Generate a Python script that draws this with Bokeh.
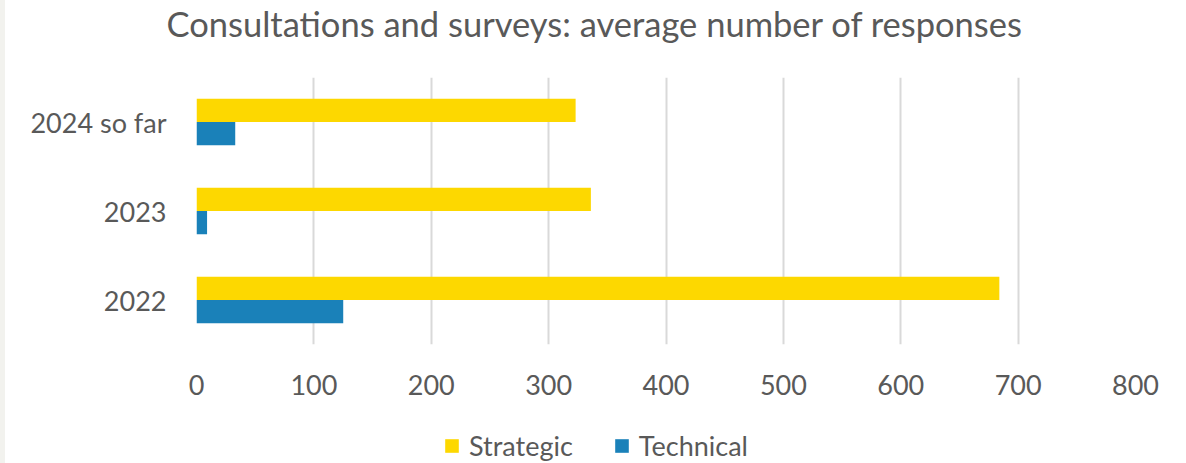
from bokeh.plotting import figure
from bokeh.models import (ColumnDataSource, FactorRange, Range1d, Legend, LegendItem,
                          FixedTicker)
from bokeh.layouts import column
from bokeh.transform import dodge
from bokeh.embed import file_html
from bokeh.resources import INLINE

title_text = "Consultations and surveys: average number of responses"
categories = ["2022", "2023", "2024 so far"]
strategic = [684, 336, 323]
technical = [125, 9, 33]
series_names = ["Strategic", "Technical"]
series_colors = ["#FDD800", "#1A81B9"]
x_ticks = [0, 100, 200, 300, 400, 500, 600, 700, 800]

TEXT = "#595959"
FONT = "Lato"
W = 1181


def bare(height):
    f = figure(width=W, height=height, x_range=Range1d(0, 1), y_range=Range1d(0, 1),
               output_backend="svg", toolbar_location=None,
               x_axis_location=None, y_axis_location=None, min_border=0)
    f.grid.visible = False
    f.outline_line_color = None
    return f


# --- title strip
pt = bare(46)
pt.title.text = title_text
pt.title.text_font = FONT
pt.title.text_font_size = "34.5px"
pt.title.text_font_style = "normal"
pt.title.text_color = TEXT
pt.title.align = "left"
pt.title.offset = -30
pt.title.standoff = 0

# --- main chart
src = ColumnDataSource(dict(cat=categories, strategic=strategic, technical=technical))

p = figure(width=W, height=377, y_range=FactorRange(factors=categories),
           x_range=Range1d(0, 800), output_backend="svg", toolbar_location=None,
           min_border_left=191, min_border_right=51, min_border_top=31, min_border_bottom=79)

p.hbar(y=dodge("cat", 0.13, range=p.y_range), right="strategic", left=0, height=0.26,
       source=src, color=series_colors[0], line_color=None)
p.hbar(y=dodge("cat", -0.13, range=p.y_range), right="technical", left=0, height=0.26,
       source=src, color=series_colors[1], line_color=None)

p.outline_line_color = None
p.ygrid.grid_line_color = None
p.xgrid.grid_line_color = "#D9D9D9"
p.xgrid.grid_line_width = 2
p.xaxis.ticker = FixedTicker(ticks=x_ticks)

for ax in (p.xaxis, p.yaxis):
    ax.axis_line_color = None
    ax.major_tick_line_color = None
    ax.minor_tick_line_color = None
    ax.major_label_text_font = FONT
    ax.major_label_text_font_size = "27px"
    ax.major_label_text_color = TEXT
p.xaxis.major_label_standoff = 24
p.yaxis.major_label_standoff = 24

# --- legend strip (zero-size proxy glyphs carry the legend swatches)
pl = bare(40)
proxy = ColumnDataSource(dict(z=[0]))
lr1 = pl.quad(left="z", right="z", top="z", bottom="z", source=proxy,
              color=series_colors[0], line_color=None)
lr2 = pl.quad(left="z", right="z", top="z", bottom="z", source=proxy,
              color=series_colors[1], line_color=None)
legend = Legend(items=[LegendItem(label=series_names[0], renderers=[lr1]),
                       LegendItem(label=series_names[1], renderers=[lr2])],
                orientation="horizontal", location=(247, 1),
                label_text_font=FONT, label_text_font_size="27px", label_text_color=TEXT,
                glyph_width=17, glyph_height=17, spacing=40, label_standoff=9,
                padding=0, margin=0,
                border_line_color=None, background_fill_alpha=0)
pl.add_layout(legend, "center")

layout = column(pt, p, pl, spacing=0, styles={"border-left": "5px solid #F2F2EE"})
open("out.html", "w").write(file_html(layout, INLINE))
